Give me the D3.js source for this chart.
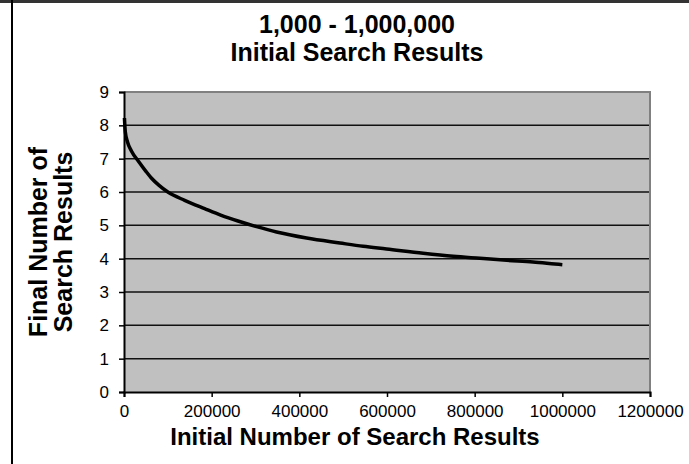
<!DOCTYPE html>
<html>
<head>
<meta charset="utf-8">
<script src="https://cdn.jsdelivr.net/npm/d3@7"></script>
<style>
  html, body { margin: 0; padding: 0; background: #fff; }
  svg { display: block; }
  text { font-family: "Liberation Sans", Arial, sans-serif; fill: #000; }
</style>
</head>
<body>
<svg id="chart" width="689" height="464"></svg>
<script>
// ---- data ----
const titleLines = ["1,000 - 1,000,000", "Initial Search Results"];
const xAxisTitle = "Initial Number of Search Results";
const yAxisTitleLines = ["Final Number of", "Search Results"];
const xTicks = [0, 200000, 400000, 600000, 800000, 1000000, 1200000];
const yTicks = [0, 1, 2, 3, 4, 5, 6, 7, 8, 9];
const initialResults = [1000, 3000, 8000, 16600, 34200, 50000, 62300, 80000, 100000, 138400, 184000, 222000, 260000, 302600, 348000, 416600, 492600, 545700, 599000, 682600, 751000, 812000, 873000, 933000, 983000, 1000000];
const finalResults   = [8.22, 7.8, 7.5, 7.24, 6.9, 6.62, 6.42, 6.2, 6.0, 5.75, 5.5, 5.3, 5.13, 4.96, 4.8, 4.62, 4.47, 4.37, 4.29, 4.16, 4.07, 4.01, 3.95, 3.9, 3.84, 3.82];

// ---- layout ----
const W = 689, H = 464;
const plot = { left: 124, right: 650, top: 92, bottom: 392 };

const svg = d3.select("#chart");

const x = d3.scaleLinear().domain([0, 1200000]).range([plot.left, plot.right]);
const y = d3.scaleLinear().domain([0, 9]).range([plot.bottom, plot.top]);

// outer frame (partially visible)
svg.append("line").attr("x1", 0).attr("x2", W).attr("y1", 1.5).attr("y2", 1.5)
  .attr("stroke", "#333").attr("stroke-width", 3);
svg.append("line").attr("x1", 12).attr("x2", 12).attr("y1", 0).attr("y2", H)
  .attr("stroke", "#000").attr("stroke-width", 2);

// plot background
svg.append("rect")
  .attr("x", plot.left).attr("y", plot.top)
  .attr("width", plot.right - plot.left).attr("height", plot.bottom - plot.top)
  .attr("fill", "#c0c0c0");

// grid lines
svg.append("g").selectAll("line")
  .data(yTicks.filter(d => d > 0 && d < 9))
  .join("line")
  .attr("x1", plot.left).attr("x2", plot.right)
  .attr("y1", d => y(d)).attr("y2", d => y(d))
  .attr("stroke", "#111").attr("stroke-width", 1.5);

// plot border top/right (gray)
svg.append("path")
  .attr("d", `M${plot.left},${plot.top}H${plot.right}V${plot.bottom}`)
  .attr("fill", "none").attr("stroke", "#808080").attr("stroke-width", 2);

// axes
const xAxis = d3.axisBottom(x).tickValues(xTicks).tickSize(5).tickPadding(8)
  .tickFormat(d3.format("d"));
const gx = svg.append("g").attr("transform", `translate(0,${plot.bottom})`).call(xAxis);
gx.select(".domain").attr("stroke", "#000").attr("stroke-width", 2);
gx.selectAll(".tick line").attr("stroke", "#000").attr("stroke-width", 1.5);
gx.selectAll(".tick text").attr("font-size", 17).attr("font-family", "Liberation Sans, Arial, sans-serif").attr("fill", "#000");

const yAxis = d3.axisLeft(y).tickValues(yTicks).tickSize(5).tickPadding(10)
  .tickFormat(d3.format("d"));
const gy = svg.append("g").attr("transform", `translate(${plot.left},0)`).call(yAxis);
gy.select(".domain").attr("stroke", "#000").attr("stroke-width", 2);
gy.selectAll(".tick line").attr("stroke", "#000").attr("stroke-width", 1.5);
gy.selectAll(".tick text").attr("font-size", 17).attr("font-family", "Liberation Sans, Arial, sans-serif").attr("fill", "#000");

// curve
const pts = initialResults.map((v, i) => [v, finalResults[i]]);
svg.append("path")
  .datum(pts)
  .attr("fill", "none")
  .attr("stroke", "#000")
  .attr("stroke-width", 3.5)
  .attr("stroke-linejoin", "round")
  .attr("d", d3.line().x(d => x(d[0])).y(d => y(d[1])).curve(d3.curveMonotoneX));

// title
svg.append("g").selectAll("text")
  .data(titleLines)
  .join("text")
  .attr("x", 357)
  .attr("y", (d, i) => 33 + i * 28)
  .attr("text-anchor", "middle")
  .attr("font-size", 25)
  .attr("font-weight", "bold")
  .text(d => d);

// x axis title
svg.append("text")
  .attr("x", 355).attr("y", 445)
  .attr("text-anchor", "middle")
  .attr("font-size", 24)
  .attr("font-weight", "bold")
  .text(xAxisTitle);

// y axis title
svg.append("g").selectAll("text")
  .data(yAxisTitleLines)
  .join("text")
  .attr("transform", (d, i) => `translate(${47 + i * 25},${(plot.top + plot.bottom) / 2}) rotate(-90)`)
  .attr("text-anchor", "middle")
  .attr("font-size", 25)
  .attr("font-weight", "bold")
  .text(d => d);
</script>
</body>
</html>
